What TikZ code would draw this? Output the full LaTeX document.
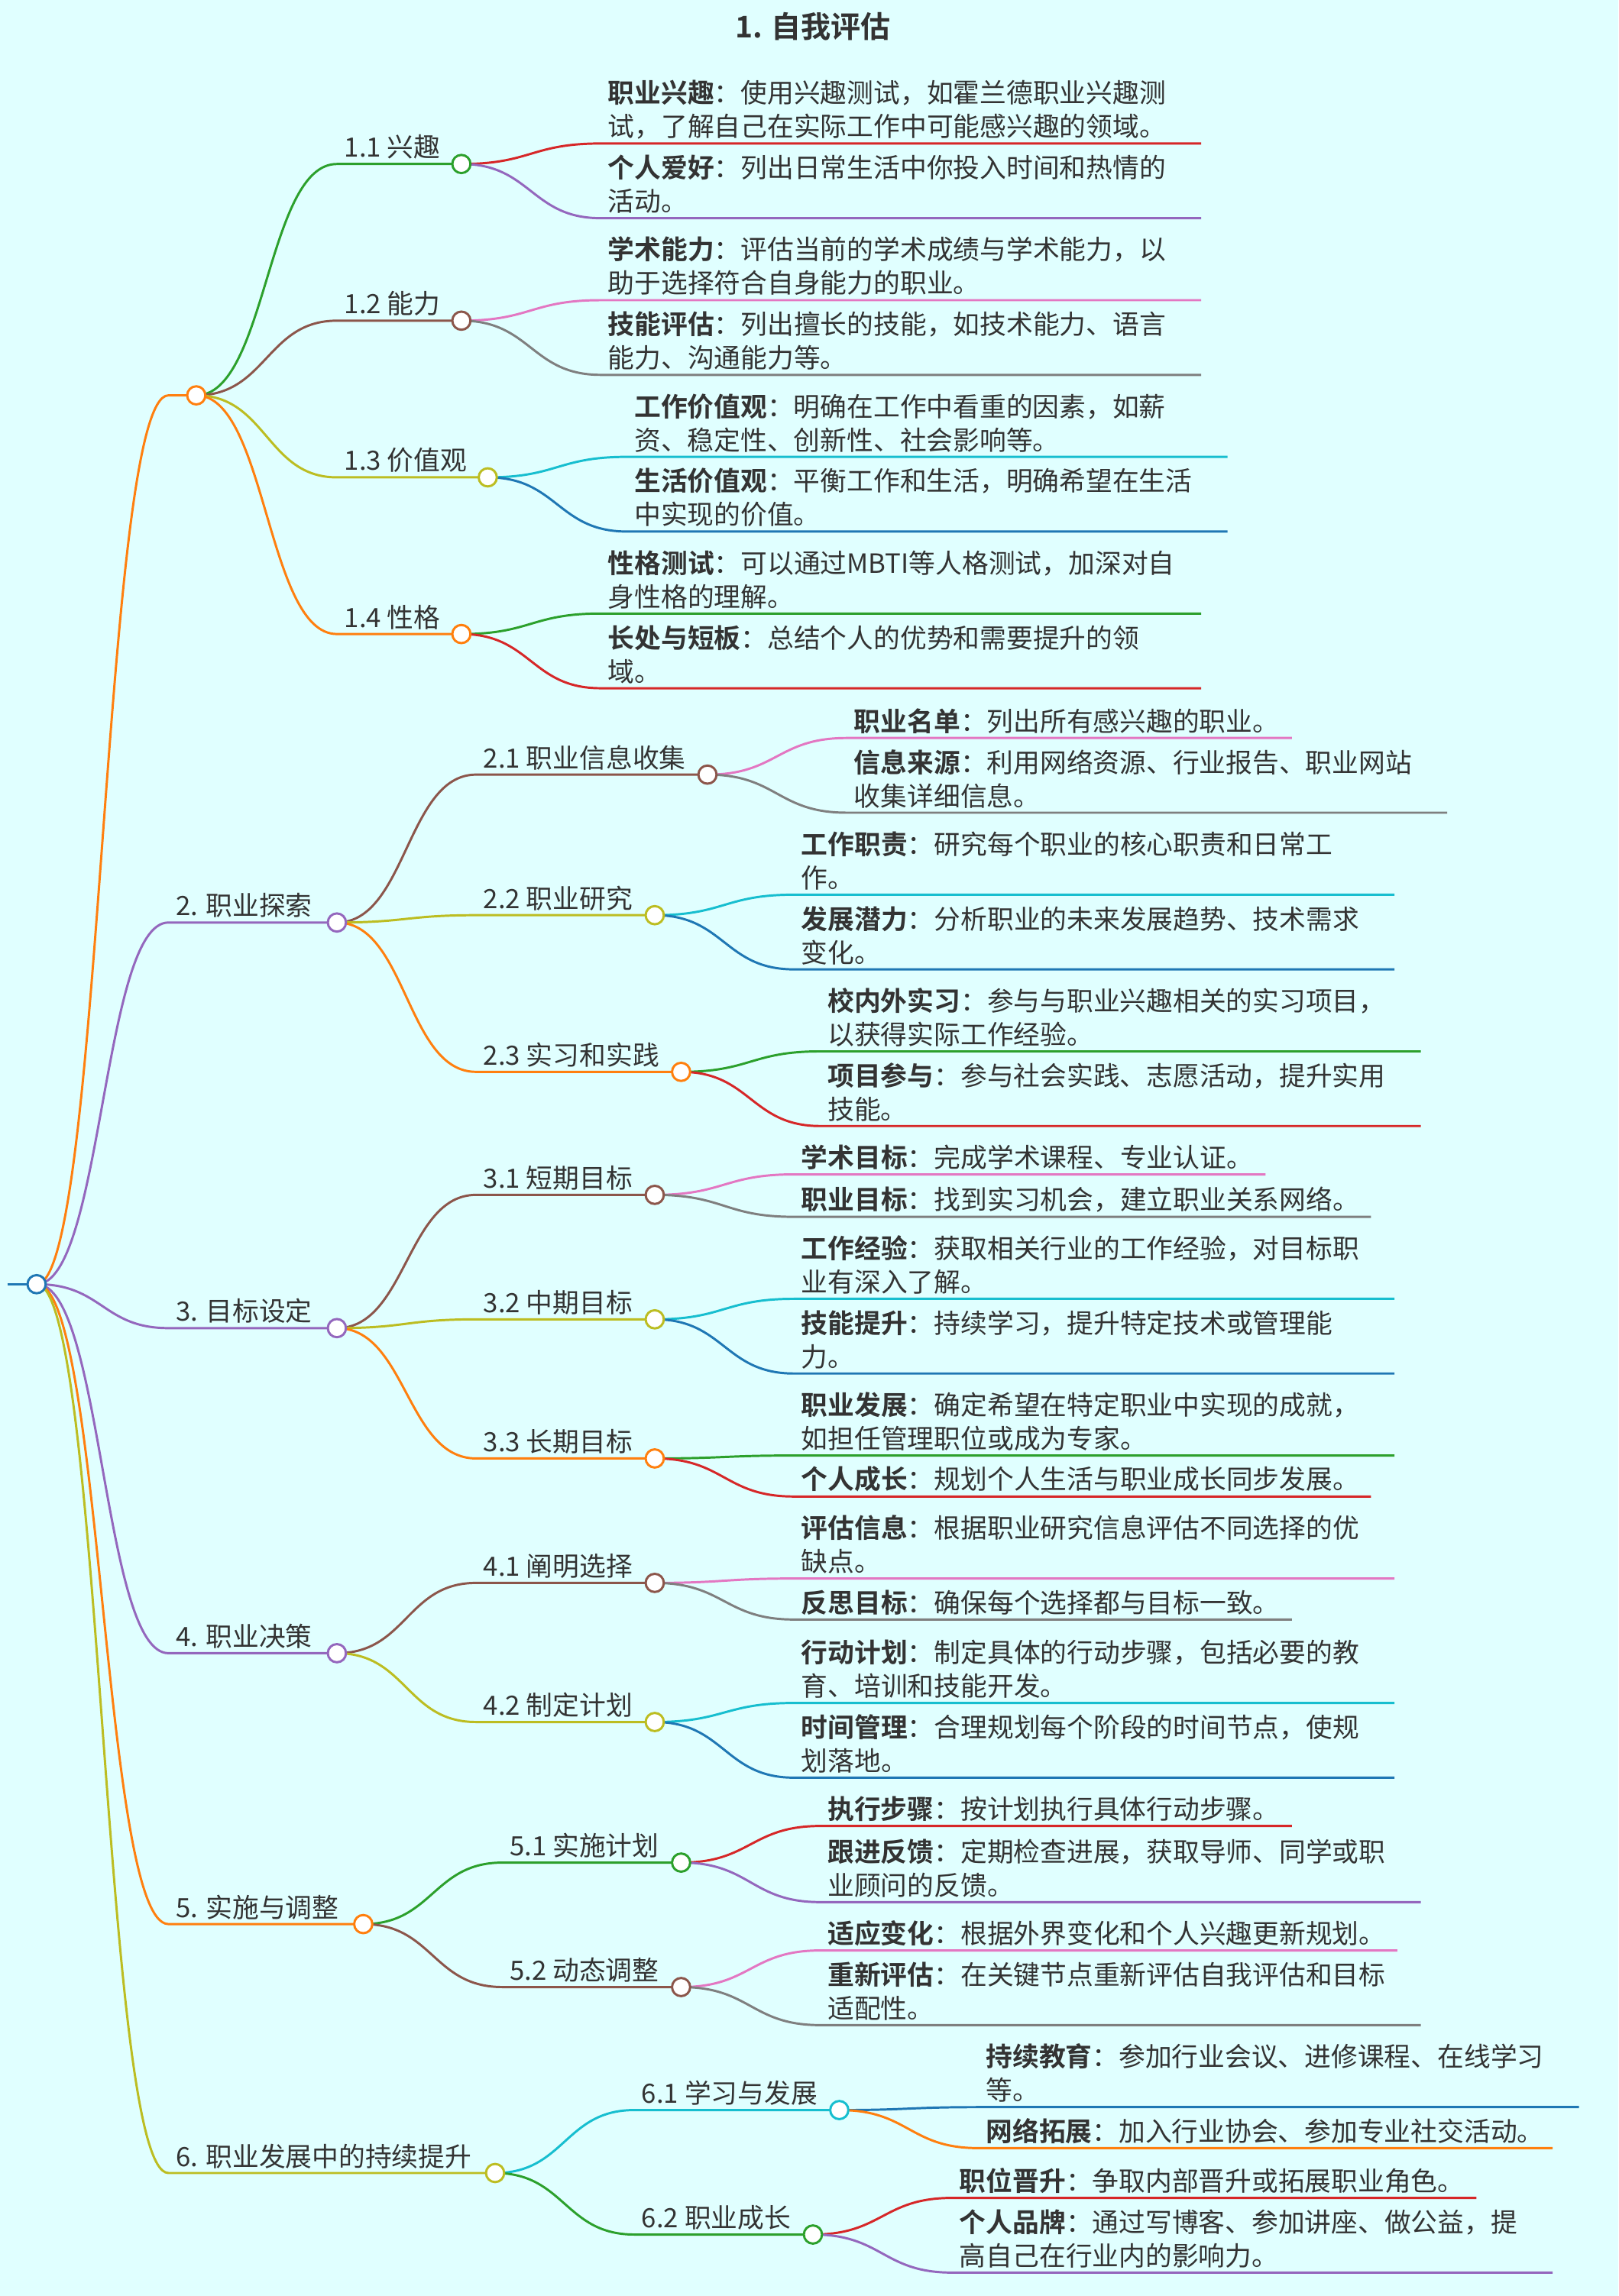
\documentclass[tikz,border=0pt]{standalone}
\usepackage{fontspec}
\setmainfont{Noto Sans CJK SC}[BoldFont={Noto Sans CJK SC Bold}]
\usetikzlibrary{calc}
\definecolor{mmblue}{HTML}{1F77B4}
\definecolor{mmorange}{HTML}{FF7F0E}
\definecolor{mmgreen}{HTML}{2CA02C}
\definecolor{mmred}{HTML}{D62728}
\definecolor{mmpurple}{HTML}{9467BD}
\definecolor{mmbrown}{HTML}{8C564B}
\definecolor{mmpink}{HTML}{E377C2}
\definecolor{mmgray}{HTML}{7F7F7F}
\definecolor{mmolive}{HTML}{BCBD22}
\definecolor{mmcyan}{HTML}{17BECF}
\definecolor{mmbg}{HTML}{E0FFFF}
\definecolor{mmtext}{HTML}{333333}
\tikzset{
  edge/.style={line width=2.2pt},
  lbl/.style={anchor=south west,inner sep=0pt,align=left,text=mmtext,
    font=\fontsize{25.8}{32.7}\selectfont},
  dot/.style={circle,fill=white,line width=2.2pt,minimum size=0.62cm,inner sep=0pt}
}
% nom, parent, x debut, y, x fin, couleur, texte
\newcommand\mmnode[7]{%
  \coordinate (#1-s) at (#3,#4);
  \coordinate (#1) at (#5,#4);
  \path ($(#2)!0.5!(#1-s)$) coordinate (#1-m);
  \draw[edge,#6] (#2) .. controls (#1-m |- #2) and (#1-m |- #1-s) .. (#1-s) -- (#1);
  \node[lbl] (#1-t) at ([shift={(5,-3)}]#1-s) {#7};
}
\newcommand\mmdot[2]{\node[dot,draw=#2] at (#1) {};}
\begin{document}
\begin{tikzpicture}[x=0.05cm,y=-0.05cm]
\useasboundingbox[fill=mmbg] (0,0) rectangle (1105,1568);
\node[font=\fontsize{29}{34}\selectfont\bfseries,text=mmtext] (title) at (555,18) {1. 自我评估};
% racine
\coordinate (root) at (25,877);
\coordinate (root-s) at (5,877);
\draw[edge,mmblue] (root-s) -- (root);

% 1. auto-evaluation
\mmnode{n1}{root}{115}{270}{134}{mmorange}{}
\mmnode{n11}{n1}{230}{112}{315}{mmgreen}{1.1 兴趣}
\mmnode{n111}{n11}{410}{98}{820}{mmred}{\textbf{职业兴趣}：使用兴趣测试，如霍兰德职业兴趣测\\试，了解自己在实际工作中可能感兴趣的领域。}
\mmnode{n112}{n11}{410}{149}{820}{mmpurple}{\textbf{个人爱好}：列出日常生活中你投入时间和热情的\\活动。}
\mmnode{n12}{n1}{230}{219}{315}{mmbrown}{1.2 能力}
\mmnode{n121}{n12}{410}{205}{820}{mmpink}{\textbf{学术能力}：评估当前的学术成绩与学术能力，以\\助于选择符合自身能力的职业。}
\mmnode{n122}{n12}{410}{256}{820}{mmgray}{\textbf{技能评估}：列出擅长的技能，如技术能力、语言\\能力、沟通能力等。}
\mmnode{n13}{n1}{230}{326}{333}{mmolive}{1.3 价值观}
\mmnode{n131}{n13}{428}{312}{838}{mmcyan}{\textbf{工作价值观}：明确在工作中看重的因素，如薪\\资、稳定性、创新性、社会影响等。}
\mmnode{n132}{n13}{428}{363}{838}{mmblue}{\textbf{生活价值观}：平衡工作和生活，明确希望在生活\\中实现的价值。}
\mmnode{n14}{n1}{230}{433}{315}{mmorange}{1.4 性格}
\mmnode{n141}{n14}{410}{419}{820}{mmgreen}{\textbf{性格测试}：可以通过MBTI等人格测试，加深对自\\身性格的理解。}
\mmnode{n142}{n14}{410}{470}{820}{mmred}{\textbf{长处与短板}：总结个人的优势和需要提升的领\\域。}

% 2. exploration
\mmnode{n2}{root}{115}{630}{230}{mmpurple}{2. 职业探索}
\mmnode{n21}{n2}{325}{529}{483}{mmbrown}{2.1 职业信息收集}
\mmnode{n211}{n21}{578}{504}{882}{mmpink}{\textbf{职业名单}：列出所有感兴趣的职业。}
\mmnode{n212}{n21}{578}{555}{988}{mmgray}{\textbf{信息来源}：利用网络资源、行业报告、职业网站\\收集详细信息。}
\mmnode{n22}{n2}{325}{625}{447}{mmolive}{2.2 职业研究}
\mmnode{n221}{n22}{542}{611}{952}{mmcyan}{\textbf{工作职责}：研究每个职业的核心职责和日常工\\作。}
\mmnode{n222}{n22}{542}{662}{952}{mmblue}{\textbf{发展潜力}：分析职业的未来发展趋势、技术需求\\变化。}
\mmnode{n23}{n2}{325}{732}{465}{mmorange}{2.3 实习和实践}
\mmnode{n231}{n23}{560}{718}{970}{mmgreen}{\textbf{校内外实习}：参与与职业兴趣相关的实习项目，\\以获得实际工作经验。}
\mmnode{n232}{n23}{560}{769}{970}{mmred}{\textbf{项目参与}：参与社会实践、志愿活动，提升实用\\技能。}

% 3. objectifs
\mmnode{n3}{root}{115}{907}{230}{mmpurple}{3. 目标设定}
\mmnode{n31}{n3}{325}{816}{447}{mmbrown}{3.1 短期目标}
\mmnode{n311}{n31}{542}{802}{864}{mmpink}{\textbf{学术目标}：完成学术课程、专业认证。}
\mmnode{n312}{n31}{542}{831}{936}{mmgray}{\textbf{职业目标}：找到实习机会，建立职业关系网络。}
\mmnode{n32}{n3}{325}{901}{447}{mmolive}{3.2 中期目标}
\mmnode{n321}{n32}{542}{887}{952}{mmcyan}{\textbf{工作经验}：获取相关行业的工作经验，对目标职\\业有深入了解。}
\mmnode{n322}{n32}{542}{938}{952}{mmblue}{\textbf{技能提升}：持续学习，提升特定技术或管理能\\力。}
\mmnode{n33}{n3}{325}{996}{447}{mmorange}{3.3 长期目标}
\mmnode{n331}{n33}{542}{994}{952}{mmgreen}{\textbf{职业发展}：确定希望在特定职业中实现的成就，\\如担任管理职位或成为专家。}
\mmnode{n332}{n33}{542}{1022}{936}{mmred}{\textbf{个人成长}：规划个人生活与职业成长同步发展。}

% 4. decision
\mmnode{n4}{root}{115}{1129}{230}{mmpurple}{4. 职业决策}
\mmnode{n41}{n4}{325}{1081}{447}{mmbrown}{4.1 阐明选择}
\mmnode{n411}{n41}{542}{1078}{952}{mmpink}{\textbf{评估信息}：根据职业研究信息评估不同选择的优\\缺点。}
\mmnode{n412}{n41}{542}{1106}{882}{mmgray}{\textbf{反思目标}：确保每个选择都与目标一致。}
\mmnode{n42}{n4}{325}{1176}{447}{mmolive}{4.2 制定计划}
\mmnode{n421}{n42}{542}{1163}{952}{mmcyan}{\textbf{行动计划}：制定具体的行动步骤，包括必要的教\\育、培训和技能开发。}
\mmnode{n422}{n42}{542}{1214}{952}{mmblue}{\textbf{时间管理}：合理规划每个阶段的时间节点，使规\\划落地。}

% 5. mise en oeuvre
\mmnode{n5}{root}{115}{1314}{248}{mmorange}{5. 实施与调整}
\mmnode{n51}{n5}{343}{1272}{465}{mmgreen}{5.1 实施计划}
\mmnode{n511}{n51}{560}{1247}{882}{mmred}{\textbf{执行步骤}：按计划执行具体行动步骤。}
\mmnode{n512}{n51}{560}{1299}{970}{mmpurple}{\textbf{跟进反馈}：定期检查进展，获取导师、同学或职\\业顾问的反馈。}
\mmnode{n52}{n5}{343}{1357}{465}{mmbrown}{5.2 动态调整}
\mmnode{n521}{n52}{560}{1332}{954}{mmpink}{\textbf{适应变化}：根据外界变化和个人兴趣更新规划。}
\mmnode{n522}{n52}{560}{1383}{970}{mmgray}{\textbf{重新评估}：在关键节点重新评估自我评估和目标\\适配性。}

% 6. progression
\mmnode{n6}{root}{115}{1484}{338}{mmolive}{6. 职业发展中的持续提升}
\mmnode{n61}{n6}{433}{1441}{573}{mmcyan}{6.1 学习与发展}
\mmnode{n611}{n61}{668}{1439}{1078}{mmblue}{\textbf{持续教育}：参加行业会议、进修课程、在线学习\\等。}
\mmnode{n612}{n61}{668}{1467}{1060}{mmorange}{\textbf{网络拓展}：加入行业协会、参加专业社交活动。}
\mmnode{n62}{n6}{433}{1526}{555}{mmgreen}{6.2 职业成长}
\mmnode{n621}{n62}{650}{1501}{1008}{mmred}{\textbf{职位晋升}：争取内部晋升或拓展职业角色。}
\mmnode{n622}{n62}{650}{1552}{1060}{mmpurple}{\textbf{个人品牌}：通过写博客、参加讲座、做公益，提\\高自己在行业内的影响力。}

% cercles
\mmdot{root}{mmblue}
\mmdot{n1}{mmorange} \mmdot{n11}{mmgreen} \mmdot{n12}{mmbrown} \mmdot{n13}{mmolive} \mmdot{n14}{mmorange}
\mmdot{n2}{mmpurple} \mmdot{n21}{mmbrown} \mmdot{n22}{mmolive} \mmdot{n23}{mmorange}
\mmdot{n3}{mmpurple} \mmdot{n31}{mmbrown} \mmdot{n32}{mmolive} \mmdot{n33}{mmorange}
\mmdot{n4}{mmpurple} \mmdot{n41}{mmbrown} \mmdot{n42}{mmolive}
\mmdot{n5}{mmorange} \mmdot{n51}{mmgreen} \mmdot{n52}{mmbrown}
\mmdot{n6}{mmolive} \mmdot{n61}{mmcyan} \mmdot{n62}{mmgreen}
\end{tikzpicture}
\end{document}
